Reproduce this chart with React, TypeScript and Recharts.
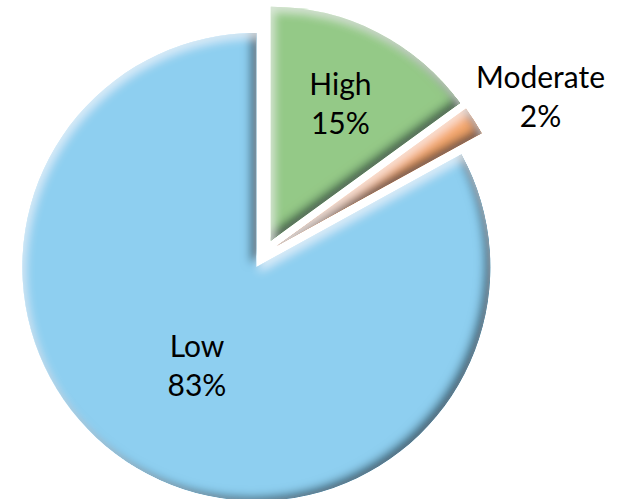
import { PieChart, Pie, Cell } from "recharts";

const categories = ["High", "Moderate", "Low"];
const shares = [15, 2, 83];
const colors = ["#94C987", "#F5A76C", "#8ECFF0"];

const data = categories.map((name, i) => ({ name, value: shares[i] }));

const RAD = Math.PI / 180;
const BASE_X = 264;
const BASE_Y = 254;
const RADIUS = 234;
const EXPLODE = 15;
// how far out each label sits, as a share of the radius, plus a small nudge
const labelDist: Record<string, number> = { High: 0.655, Moderate: 1.3, Low: 0.49 };
const labelNudge: Record<string, [number, number]> = {
  High: [0, 0],
  Moderate: [7, 14],
  Low: [-1, 0],
};

const total = shares.reduce((a, b) => a + b, 0);
const offsets = shares.map((v, i) => {
  const before = shares.slice(0, i).reduce((a, b) => a + b, 0);
  const mid = 90 - (360 * (before + v / 2)) / total;
  return { dx: EXPLODE * Math.cos(mid * RAD), dy: -EXPLODE * Math.sin(mid * RAD) };
});

const makeLabel = (target: number) => (props: any) => {
  const { cx, cy, midAngle, outerRadius, index, name, value } = props;
  if (index !== target) return null;
  const r = outerRadius * labelDist[name];
  const x = cx + r * Math.cos(-midAngle * RAD) + labelNudge[name][0];
  const y = cy + r * Math.sin(-midAngle * RAD) + labelNudge[name][1];
  return (
    <text
      x={x}
      y={y}
      textAnchor="middle"
      fill="#000"
      fontSize={30}
      fontFamily="Lato, 'Open Sans', sans-serif"
    >
      <tspan x={x} y={y - 9}>{name}</tspan>
      <tspan x={x} y={y + 30}>{`${value}%`}</tspan>
    </text>
  );
};

export default function App() {
  return (
    <div style={{ position: "absolute", left: 0, top: 0, width: 621, height: 499, background: "#fff" }}>
      <PieChart width={621} height={499} margin={{ top: 0, right: 0, bottom: 0, left: 0 }}>
        <defs>
          <filter id="bevel" x="-10%" y="-10%" width="120%" height="120%">
            <feGaussianBlur in="SourceAlpha" stdDeviation="5" result="blur" />
            <feOffset in="blur" dx="-6" dy="-4" result="offDark" />
            <feComposite in="SourceAlpha" in2="offDark" operator="arithmetic" k2="1" k3="-1" result="darkMask" />
            <feFlood floodColor="#0b2433" floodOpacity="0.85" result="darkCol" />
            <feComposite in="darkCol" in2="darkMask" operator="in" result="dark" />
            <feOffset in="blur" dx="3" dy="5" result="offLight" />
            <feComposite in="SourceAlpha" in2="offLight" operator="arithmetic" k2="1" k3="-1" result="lightMask" />
            <feFlood floodColor="#ffffff" floodOpacity="0.6" result="lightCol" />
            <feComposite in="lightCol" in2="lightMask" operator="in" result="light" />
            <feMerge>
              <feMergeNode in="SourceGraphic" />
              <feMergeNode in="dark" />
              <feMergeNode in="light" />
            </feMerge>
          </filter>
        </defs>
        {data.map((d, i) => (
          <Pie
            key={d.name}
            data={data}
            dataKey="value"
            nameKey="name"
            cx={BASE_X + offsets[i].dx}
            cy={BASE_Y + offsets[i].dy}
            outerRadius={RADIUS}
            startAngle={90}
            endAngle={-270}
            stroke="none"
            label={makeLabel(i)}
            labelLine={false}
            isAnimationActive={false}
          >
            {data.map((_, j) => (
              <Cell
                key={j}
                fill={j === i ? colors[j] : "none"}
                filter={j === i ? "url(#bevel)" : undefined}
              />
            ))}
          </Pie>
        ))}
      </PieChart>
    </div>
  );
}
